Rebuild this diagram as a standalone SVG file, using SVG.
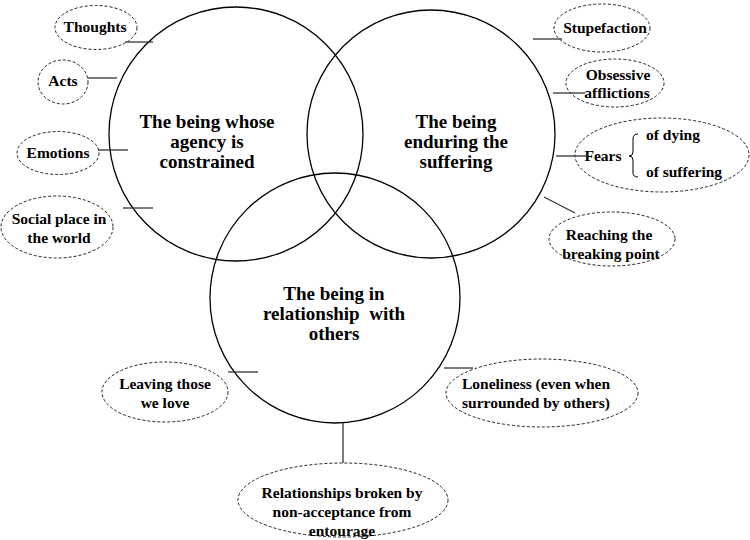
<svg xmlns="http://www.w3.org/2000/svg" width="750" height="540" viewBox="0 0 750 540">
<style>
.c{fill:none;stroke:#000;stroke-width:1.3}
.e{fill:none;stroke:#222;stroke-width:1;stroke-dasharray:3 2}
text{font-family:'Liberation Serif','Times New Roman',Times,serif;font-weight:700;fill:#000;text-anchor:middle}
.big{font-size:19px}
.sm{font-size:15.5px}
.ln{stroke:#333;stroke-width:1.3;fill:none}
.br{stroke:#000;stroke-width:1;fill:none}
</style>
<rect width="750" height="540" fill="#fff"/>
<g font-family="Liberation Serif, serif" font-weight="bold">
<g id="circle-agency">
<circle class="c" cx="236" cy="134" r="127"/>
<text class="big" x="207" y="128">The being whose</text>
<text class="big" x="207" y="148">agency is</text>
<text class="big" x="207" y="168">constrained</text>
</g>
<g id="circle-suffering">
<circle class="c" cx="431" cy="134" r="124"/>
<text class="big" x="456" y="128">The being</text>
<text class="big" x="456" y="148">enduring the</text>
<text class="big" x="456" y="168">suffering</text>
</g>
<g id="circle-relationship">
<circle class="c" cx="335" cy="298" r="125"/>
<text class="big" x="334" y="300">The being in</text>
<text class="big" x="334" y="320" xml:space="preserve">relationship  with</text>
<text class="big" x="334" y="340">others</text>
</g>
<g id="thoughts">
<ellipse class="e" cx="96" cy="27.5" rx="41" ry="22"/>
<text class="sm" x="95" y="32">Thoughts</text>
</g>
<g id="acts">
<ellipse class="e" cx="63" cy="82" rx="25" ry="22"/>
<text class="sm" x="63" y="86">Acts</text>
</g>
<g id="emotions">
<ellipse class="e" cx="58" cy="153" rx="41" ry="21.5"/>
<text class="sm" x="58" y="158">Emotions</text>
</g>
<g id="social">
<ellipse class="e" cx="57" cy="227" rx="56" ry="31"/>
<text class="sm" x="59" y="224">Social place in</text>
<text class="sm" x="59" y="243">the world</text>
</g>
<g id="stupefaction">
<ellipse class="e" cx="602" cy="28" rx="48" ry="24"/>
<text class="sm" x="605" y="33">Stupefaction</text>
</g>
<g id="obsessive">
<ellipse class="e" cx="615" cy="83" rx="49" ry="24"/>
<text class="sm" x="618" y="80">Obsessive</text>
<text class="sm" x="617" y="98">afflictions</text>
</g>
<g id="fears">
<ellipse class="e" cx="662" cy="155" rx="87" ry="37"/>
<text class="sm" x="603" y="161">Fears</text>
<path class="br" d="M638 134 Q633 134 633 139 L633 152 Q633 156 629 156 Q633 156 633 160 L633 173 Q633 177 638 177"/>
<text class="sm" x="673" y="140">of dying</text>
<text class="sm" x="684" y="177">of suffering</text>
</g>
<g id="breaking">
<ellipse class="e" cx="612" cy="239" rx="63" ry="27"/>
<text class="sm" x="609" y="240">Reaching the</text>
<text class="sm" x="611" y="259">breaking point</text>
</g>
<g id="leaving">
<ellipse class="e" cx="165" cy="392" rx="63" ry="30"/>
<text class="sm" x="165" y="389">Leaving those</text>
<text class="sm" x="165" y="408">we love</text>
</g>
<g id="loneliness">
<ellipse class="e" cx="542" cy="393" rx="96" ry="34"/>
<text class="sm" x="536" y="389">Loneliness (even when</text>
<text class="sm" x="536" y="408">surrounded by others)</text>
</g>
<g id="relationships-broken">
<ellipse class="e" cx="343" cy="500" rx="105" ry="37"/>
<text class="sm" x="342" y="498">Relationships broken by</text>
<text class="sm" x="342" y="517">non-acceptance from</text>
<text class="sm" x="342" y="536">entourage</text>
</g>
</g>
<g id="connectors">
<line class="ln" x1="125" y1="42" x2="153" y2="42"/>
<line class="ln" x1="88" y1="78" x2="117" y2="78"/>
<line class="ln" x1="98" y1="150" x2="128" y2="150"/>
<line class="ln" x1="123" y1="208" x2="153" y2="208"/>
<line class="ln" x1="533" y1="39" x2="562" y2="39"/>
<line class="ln" x1="553" y1="93" x2="585" y2="93"/>
<line class="ln" x1="556" y1="156" x2="587" y2="156"/>
<line class="ln" x1="544" y1="197" x2="575" y2="213"/>
<line class="ln" x1="228" y1="372" x2="258" y2="372"/>
<line class="ln" x1="444" y1="368" x2="473" y2="368"/>
<line class="ln" x1="343" y1="423" x2="343" y2="463"/>
</g>
</svg>
